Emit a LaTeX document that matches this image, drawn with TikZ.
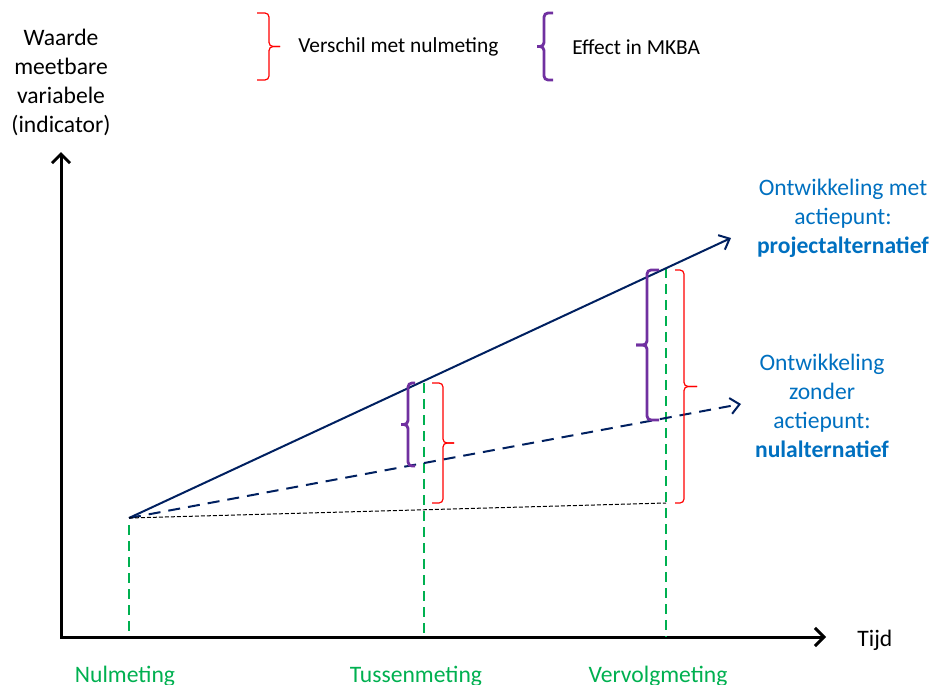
\documentclass[tikz,border=0pt]{standalone}
\usepackage{fontspec}
\setmainfont{Carlito}
\usetikzlibrary{arrows.meta}
\definecolor{navy}{RGB}{0,32,96}
\definecolor{metgroen}{RGB}{0,176,80}
\definecolor{paars}{RGB}{112,48,160}
\definecolor{tekstblauw}{RGB}{0,112,192}

% accolade: [stijl]{x lijf}{x uiteinden}{x punt}{y boven}{y onder}
\newcommand{\accolade}[6][]{
    \draw[#1, rounded corners=2pt] (#3,#5) -- (#2,#5) -- (#2,{(#5+#6)/2}) -- (#4,{(#5+#6)/2});
    \draw[#1, rounded corners=2pt] (#4,{(#5+#6)/2}) -- (#2,{(#5+#6)/2}) -- (#2,#6) -- (#3,#6);
}

\begin{document}
\begin{tikzpicture}[x=0.5pt, y=-0.5pt, >={Straight Barb},
    every node/.style={font=\fontsize{11.8}{14.5}\selectfont, align=center, inner sep=0pt},
    legenda/.style={font=\fontsize{10.7}{13}\selectfont, anchor=west},
    meting/.style={metgroen, line width=1.2pt, dash pattern=on 5pt off 3pt},
    ontwikkeling/.style={navy, line width=1pt, -{Straight Barb[length=4.5pt,width=8pt]}},
    effect/.style={paars, line width=1.4pt},
    verschil/.style={red, line width=0.6pt}]
    \useasboundingbox (0,0) rectangle (932,685);

    % axes
    \coordinate (hoek) at (61,637);
    \coordinate (ytop) at (61,152);
    \coordinate (xend) at (826,637);
    \draw[<->, line width=1.5pt] (ytop) -- (hoek) -- (xend);
    \node (ylabel) at (61,82) {Waarde\\meetbare\\variabele\\(indicator)};
    \node[anchor=west] (tijd) at (857,640) {Tijd};

    % meetmomenten
    \foreach \x/\ytop/\ybot in {129/525/632, 424/383/637, 666/268/637}
        \draw[meting] (\x,\ytop) -- (\x,\ybot);
    \node[metgroen, anchor=base] (nulmeting) at (125,682) {Nulmeting};
    \node[metgroen, anchor=base] (tussen) at (416,682) {Tussenmeting};
    \node[metgroen, anchor=base] (vervolg) at (658,682) {Vervolgmeting};

    % ontwikkelingen
    \coordinate (start) at (129,518);
    \coordinate (project) at (731,238);
    \coordinate (nul) at (741,404);
    \coordinate (basis) at (666,503);
    \draw[ontwikkeling] (start) -- (project);
    \draw[ontwikkeling, dash pattern=on 6pt off 4pt] (start) -- (nul);
    \draw[black, line width=0.5pt, dash pattern=on 2pt off 1pt] (start) -- (basis);

    \node[tekstblauw] (projlabel) at (843,218) {Ontwikkeling met\\actiepunt:\\\textbf{projectalternatief}};
    \node[tekstblauw] (nullabel) at (822,406) {Ontwikkeling\\zonder\\actiepunt:\\\textbf{nulalternatief}};

    % accolades
    \accolade[effect]{408}{415}{401}{383}{466}
    \accolade[verschil]{443}{432}{454}{383}{503}
    \accolade[effect]{647}{659}{636}{270}{420}
    \accolade[verschil]{684}{675}{697}{270}{503}

    % legenda
    \accolade[verschil]{269}{257}{280}{13}{80}
    \node[legenda] (legverschil) at (298,47) {Verschil met nulmeting};
    \accolade[effect]{544}{553}{537}{13}{80}
    \node[legenda] (legeffect) at (572,47) {Effect in MKBA};

\end{tikzpicture}
\end{document}
